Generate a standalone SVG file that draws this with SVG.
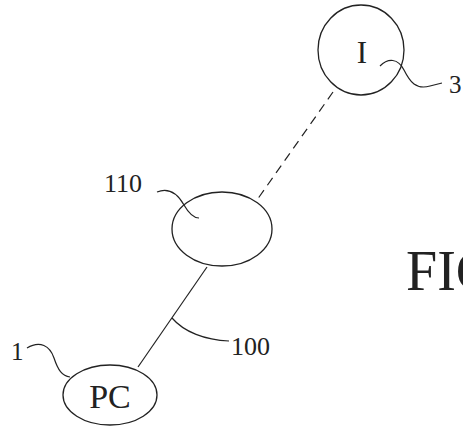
<svg xmlns="http://www.w3.org/2000/svg" width="463" height="435" viewBox="0 0 463 435">
<style>
.n{fill:none;stroke:#222;stroke-width:1.3}
.l{fill:none;stroke:#222;stroke-width:1.2}
.t{font-family:"Liberation Serif",serif;fill:#222}
</style>
<rect width="463" height="435" fill="#fff"/>
<g id="connectors">
<line class="l" x1="333" y1="92" x2="257" y2="200" stroke-dasharray="9,6"/>
<line class="l" x1="207" y1="267" x2="138" y2="367"/>
</g>
<g id="node-I">
<ellipse class="n" cx="361" cy="50" rx="43" ry="45"/>
<text class="t" x="362" y="63" font-size="31" text-anchor="middle">I</text>
</g>
<g id="node-110">
<ellipse class="n" cx="222" cy="229" rx="50" ry="37"/>
</g>
<g id="node-PC">
<ellipse class="n" cx="110" cy="395" rx="47" ry="30"/>
<text class="t" x="110" y="408" font-size="34" text-anchor="middle">PC</text>
</g>
<g id="labels">
<path class="l" d="M380,66 C388,58 398,58 404,70 C410,82 416,90 430,86 L442,83"/>
<text class="t" x="449" y="93" font-size="25">3</text>
<text class="t" x="104" y="192" font-size="26">110</text>
<path class="l" d="M157,192 C172,186 180,198 184,205 C188,212 193,218 199,218"/>
<path class="l" d="M172,318 C184,332 205,340 229,341"/>
<text class="t" x="231" y="355" font-size="26">100</text>
<text class="t" x="11" y="360" font-size="25">1</text>
<path class="l" d="M27,348 C40,340 50,346 54,358 C58,370 62,376 70,377"/>
<text class="t" x="406" y="290" font-size="56" fill="#444">FIG</text>
</g>
</svg>
